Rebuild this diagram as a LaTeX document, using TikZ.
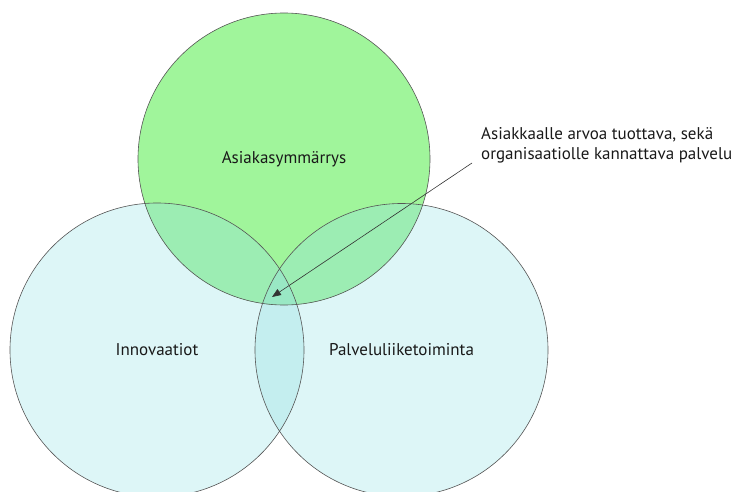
\documentclass[tikz,border=0pt]{standalone}
\usepackage{fontspec}
\setmainfont{PT Sans}
\usetikzlibrary{arrows.meta}
\definecolor{cyanfill}{HTML}{DDF6F7}
\definecolor{cyandbl}{HTML}{C4EEEF}
\definecolor{greenfill}{HTML}{A0F59B}
\definecolor{greencyan}{HTML}{9CEDB3}
\definecolor{triple}{HTML}{99E8C4}
\definecolor{edge}{HTML}{555555}
\begin{document}
\begin{tikzpicture}[x=1pt,y=-1pt,
  lbl/.style={font=\fontsize{17}{20}\selectfont, text=black!90},
  ring/.style={draw=edge, line width=0.6pt}]
\useasboundingbox (0,0) rectangle (739,492);
\clip (0,0) rectangle (739,492);
\def\topc{(284,159) circle[radius=146]}
\def\leftc{(157,350) circle[radius=147]}
\def\rightc{(401.5,350) circle[radius=146.5]}
% fills
\fill[cyanfill] \leftc;
\fill[cyanfill] \rightc;
\begin{scope}\clip \leftc; \fill[cyandbl] \rightc;\end{scope}
\fill[greenfill] \topc;
\begin{scope}\clip \topc; \fill[greencyan] \leftc; \fill[greencyan] \rightc;
  \clip \leftc; \fill[triple] \rightc;\end{scope}
% outlines
\draw[ring] \leftc;
\draw[ring] \rightc;
\draw[ring] \topc;
% labels
\node[lbl] (asi) at (284,159) {Asiakasymmärrys};
\node[lbl] (inn) at (157,350) {Innovaatiot};
\node[lbl] (pal) at (401.5,350) {Palveluliiketoiminta};
\node[lbl, anchor=north west, align=left, inner sep=0pt] (note) at (481,127.5)
  {Asiakkaalle arvoa tuottava, sekä\\organisaatiolle kannattava palvelu};
\coordinate (src) at (472,163);
\coordinate (tgt) at (272,297);
\draw[draw=black!80, line width=0.6pt, -{Triangle[length=9pt,width=7pt]}] (src) -- (tgt);
\end{tikzpicture}
\end{document}
